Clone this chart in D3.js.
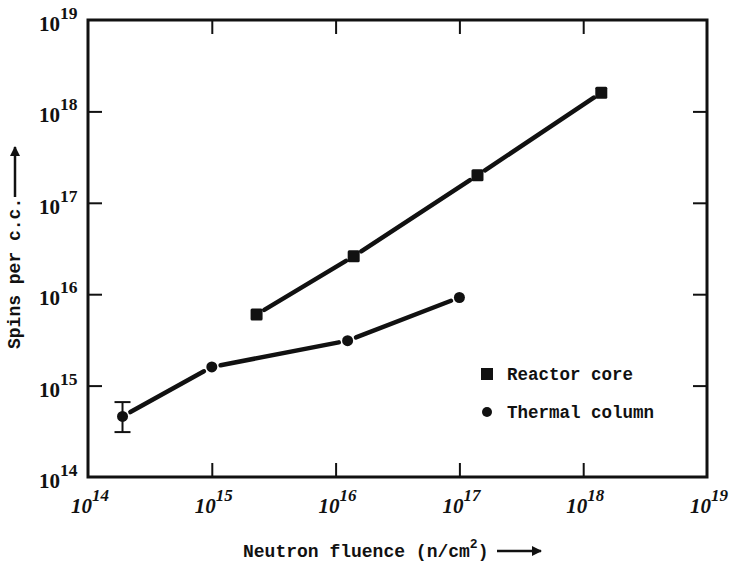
<!DOCTYPE html>
<html lang="en">
<head>
  <meta charset="UTF-8">
  <title></title>
  <style>
    html, body {
      margin: 0;
      overflow: hidden;
      width: 100%;
      height: 100%;
      background: #fff;
    }

    svg {
      position: absolute;
      top: 0;
      left: 0;
      width: 729px;
      height: 568px;
    }

    .tick-label { font-family: 'Liberation Serif', serif; font-weight: bold; fill: #111; }
    .mono { font-family: 'Liberation Mono', 'DejaVu Sans Mono', monospace; font-weight: bold; fill: #111; }
  </style>
</head>
<body>
  <svg></svg>
</body>
<script src="https://d3js.org/d3.v7.min.js"></script>
<script type="text/javascript">
  // decades on both axes
  const decades = [14, 15, 16, 17, 18, 19]

  const reactorFluence = [2.3e15, 1.4e16, 1.4e17, 1.4e18]
  const reactorSpins = [6.0e15, 2.6e16, 2.0e17, 1.6e18]

  const thermalFluence = [1.9e14, 1.0e15, 1.25e16, 1.0e17]
  const thermalSpins = [4.6e14, 1.6e15, 3.1e15, 9.2e15]
  // error bar only on the first thermal point
  const thermalErrLow = [3.1e14]
  const thermalErrHigh = [6.6e14]

  const legendLabels = ['Reactor core', 'Thermal column']

  const svg = d3.select('svg')
  const ink = '#111'

  const pLeft = 88, pRight = 707, pTop = 20, pBottom = 477

  const x = d3.scaleLog().domain([1e14, 1e19]).range([pLeft, pRight])
  const y = d3.scaleLog().domain([1e14, 1e19]).range([pBottom, pTop])

  const tickVals = decades.slice(1, -1).map(d => Math.pow(10, d))

  // inward ticks on all four sides
  const axes = [
    { a: d3.axisBottom(x), t: `translate(0,${pBottom})` },
    { a: d3.axisTop(x), t: `translate(0,${pTop})` },
    { a: d3.axisLeft(y), t: `translate(${pLeft},0)` },
    { a: d3.axisRight(y), t: `translate(${pRight},0)` }
  ]
  axes.forEach(({ a, t }) => {
    const g = svg.append('g')
      .attr('transform', t)
      .call(a.tickValues(tickVals).tickSize(-14).tickFormat(''))
    g.select('.domain').remove()
    g.selectAll('line').attr('stroke', ink).attr('stroke-width', 2)
  })

  // frame
  svg.append('rect')
    .attr('x', pLeft)
    .attr('y', pTop)
    .attr('width', pRight - pLeft)
    .attr('height', pBottom - pTop)
    .attr('fill', 'none')
    .attr('stroke', ink)
    .attr('stroke-width', 3)

  // x tick labels: "10" ends at tick, exponent beyond
  const xl = svg.append('g').selectAll('text')
    .data(decades)
    .enter()
    .append('text')
    .attr('class', 'tick-label')
    .attr('x', d => x(Math.pow(10, d)) - 17)
    .attr('y', pBottom + 36)
    .style('font-style', 'italic')
  xl.append('tspan').attr('font-size', 21).text('10')
  xl.append('tspan').attr('font-size', 17).attr('dy', -12).text(d => d)

  // y tick labels
  const yl = svg.append('g').selectAll('text')
    .data(decades)
    .enter()
    .append('text')
    .attr('class', 'tick-label')
    .attr('x', 39)
    .attr('y', d => y(Math.pow(10, d)) + 11)
  yl.append('tspan').attr('font-size', 21).text('10')
  yl.append('tspan').attr('font-size', 17.5).attr('dy', -12).text(d => d)

  // connecting lines, stopped short of the markers
  const gap = 9
  function segments(xs, ys) {
    const segs = []
    for (let i = 0; i < xs.length - 1; i++) {
      const x1 = x(xs[i]), y1 = y(ys[i]), x2 = x(xs[i + 1]), y2 = y(ys[i + 1])
      const len = Math.hypot(x2 - x1, y2 - y1)
      const ux = (x2 - x1) / len, uy = (y2 - y1) / len
      segs.push({ x1: x1 + ux * gap, y1: y1 + uy * gap, x2: x2 - ux * gap, y2: y2 - uy * gap })
    }
    return segs
  }

  const allSegs = segments(reactorFluence, reactorSpins).concat(segments(thermalFluence, thermalSpins))
  svg.selectAll('line.series')
    .data(allSegs)
    .enter()
    .append('line')
    .attr('class', 'series')
    .attr('x1', s => s.x1)
    .attr('y1', s => s.y1)
    .attr('x2', s => s.x2)
    .attr('y2', s => s.y2)
    .attr('stroke', ink)
    .attr('stroke-width', 4.5)
    .attr('stroke-linecap', 'round')

  // markers
  svg.selectAll('rect.core')
    .data(reactorFluence)
    .enter()
    .append('rect')
    .attr('class', 'core')
    .attr('x', (d, i) => x(d) - 6)
    .attr('y', (d, i) => y(reactorSpins[i]) - 6)
    .attr('width', 12)
    .attr('height', 12)
    .attr('rx', 1.5)
    .attr('fill', ink)

  svg.selectAll('circle.thermal')
    .data(thermalFluence)
    .enter()
    .append('circle')
    .attr('class', 'thermal')
    .attr('cx', d => x(d))
    .attr('cy', (d, i) => y(thermalSpins[i]))
    .attr('r', 5.5)
    .attr('fill', ink)

  // error bar
  const eb = svg.append('g').attr('stroke', ink).attr('stroke-width', 2)
  thermalErrLow.forEach((lo, i) => {
    const cx = x(thermalFluence[i])
    const y1 = y(thermalErrHigh[i]), y2 = y(lo)
    eb.append('line').attr('x1', cx).attr('x2', cx).attr('y1', y1).attr('y2', y2)
    eb.append('line').attr('x1', cx - 8).attr('x2', cx + 8).attr('y1', y1).attr('y2', y1)
    eb.append('line').attr('x1', cx - 8).attr('x2', cx + 8).attr('y1', y2).attr('y2', y2)
  })

  // legend
  const lg = svg.append('g').attr('transform', 'translate(487,374)')
  lg.append('rect').attr('x', -6).attr('y', -6).attr('width', 12).attr('height', 12).attr('fill', ink)
  lg.append('circle').attr('cx', 0).attr('cy', 38).attr('r', 5).attr('fill', ink)
  lg.selectAll('text')
    .data(legendLabels)
    .enter()
    .append('text')
    .attr('class', 'mono')
    .attr('font-size', 17.5)
    .attr('x', 20)
    .attr('y', (d, i) => 6 + i * 38)
    .text(d => d)

  // arrow marker
  svg.append('defs').append('marker')
    .attr('id', 'arr')
    .attr('viewBox', '0 0 10 10')
    .attr('refX', 9)
    .attr('refY', 5)
    .attr('markerWidth', 5)
    .attr('markerHeight', 4)
    .attr('orient', 'auto')
    .append('path')
    .attr('d', 'M0,0L10,5L0,10Z')
    .attr('fill', ink)

  // x title
  const xt = svg.append('text')
    .attr('class', 'mono')
    .attr('font-size', 18)
    .attr('x', 243)
    .attr('y', 557)
  xt.append('tspan').text('Neutron fluence (n/cm')
  xt.append('tspan').attr('font-size', 13).attr('dy', -9).text('2')
  xt.append('tspan').attr('dy', 9).text(')')
  svg.append('line')
    .attr('x1', 497).attr('y1', 551).attr('x2', 541).attr('y2', 551)
    .attr('stroke', ink).attr('stroke-width', 2.5)
    .attr('marker-end', 'url(#arr)')

  // y title
  svg.append('text')
    .attr('class', 'mono')
    .attr('font-size', 18)
    .attr('transform', 'translate(20,349) rotate(-90)')
    .text('Spins per c.c.')
  svg.append('line')
    .attr('x1', 15).attr('y1', 197).attr('x2', 15).attr('y2', 147)
    .attr('stroke', ink).attr('stroke-width', 2.5)
    .attr('marker-end', 'url(#arr)')
</script>
</html>
